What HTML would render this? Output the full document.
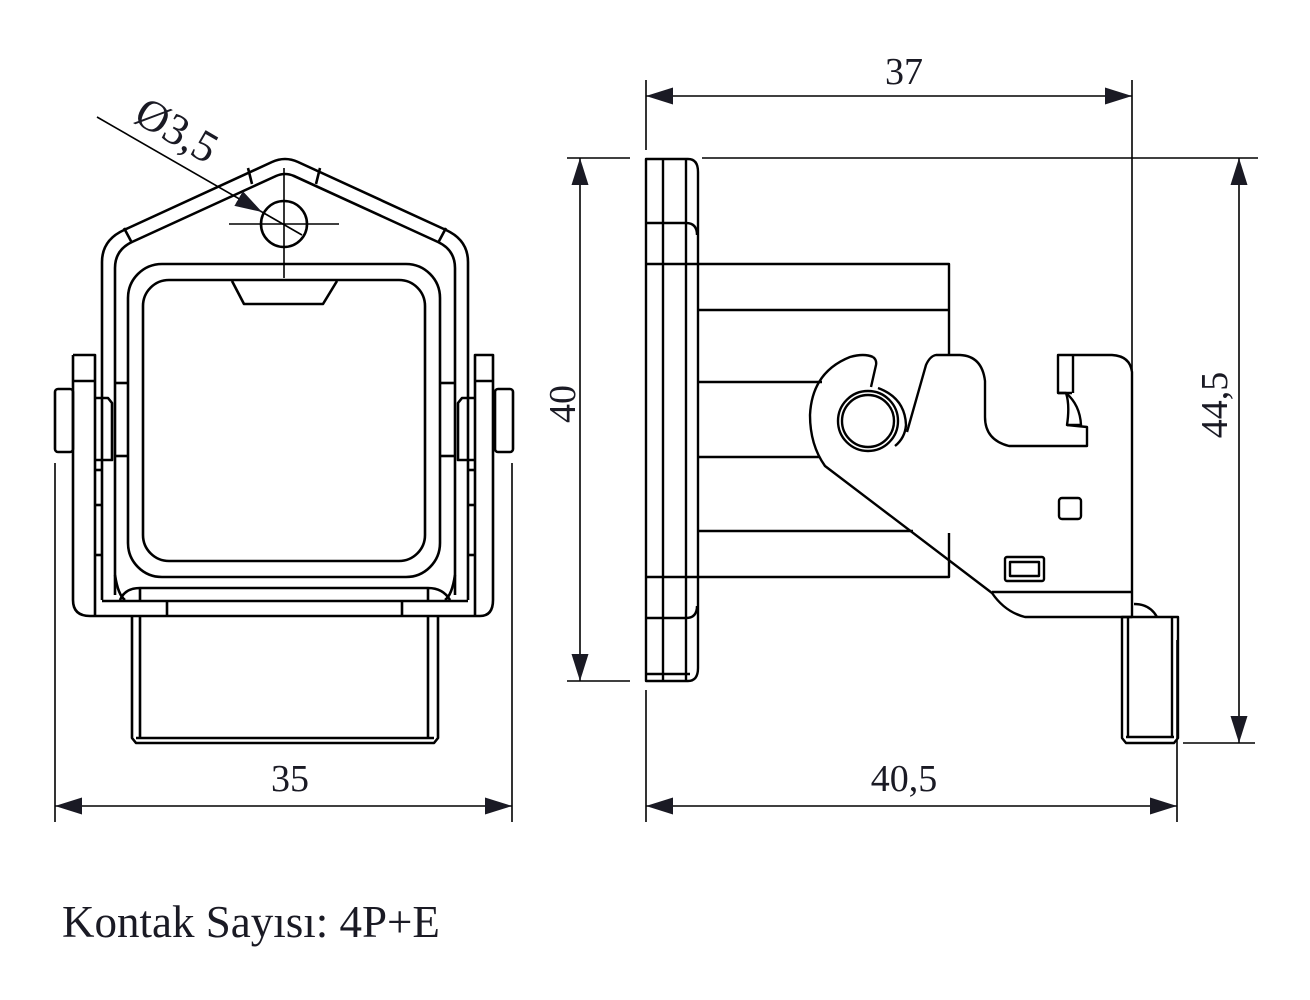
<!DOCTYPE html>
<html><head><meta charset="utf-8"><style>
html,body{margin:0;padding:0;background:#fff;}
svg{display:block;}
text{font-family:"Liberation Serif",serif;fill:#1a1a24;}
</style></head><body>
<svg width="1310" height="1000" viewBox="0 0 1310 1000" xmlns="http://www.w3.org/2000/svg">
<defs>
<marker id="ar" viewBox="0 0 27 17" refX="27" refY="8.5" markerWidth="27" markerHeight="17" markerUnits="userSpaceOnUse" orient="auto-start-reverse">
<path d="M0,0 L27,8.5 L0,17 Z" fill="#1a1a24"/>
</marker>
</defs>
<g fill="none" stroke="#000" stroke-width="2.6" stroke-linejoin="round">
<path d="M102,600 L102,262 Q102,240 124,230 L272,162 Q285,156 298,162 L446,230 Q468,240 468,262 L468,600"/>
<path d="M115,595 L115,268 Q115,250 132,242 L276,176 Q285,172 294,176 L438,242 Q455,250 455,268 L455,595"/>
<line x1="124" y1="228" x2="132" y2="243"/><line x1="446" y1="228" x2="438" y2="243"/>
<line x1="248" y1="168" x2="252" y2="184"/><line x1="320" y1="168" x2="316" y2="184"/>
<rect x="128" y="264" width="312" height="313" rx="34"/>
<rect x="143" y="280" width="282" height="281" rx="26"/>
<path d="M232,281 L244,304 L323,304 L337,281"/>
<circle cx="284" cy="224" r="23"/>
<path d="M73,355 L95,355 L95,615 M73,355 L73,600 Q73,616 90,616 L480,616 Q493,616 493,600 L493,355 L475,355 L475,615"/>
<line x1="73" y1="381" x2="95" y2="381"/><line x1="475" y1="381" x2="493" y2="381"/>
<rect x="55" y="389" width="18" height="63" rx="3"/>
<rect x="495" y="389" width="18" height="63" rx="3"/>
<path d="M95,398 L108,398 L112,403 L112,460 L95,460"/>
<path d="M475,398 L462,398 L458,403 L458,460 L475,460"/>
<line x1="115" y1="383" x2="128" y2="383"/><line x1="115" y1="456" x2="128" y2="456"/>
<line x1="455" y1="383" x2="440" y2="383"/><line x1="455" y1="456" x2="440" y2="456"/>
<line x1="95" y1="470" x2="102" y2="470"/><line x1="95" y1="505" x2="102" y2="505"/><line x1="95" y1="555" x2="102" y2="555"/>
<line x1="468" y1="470" x2="475" y2="470"/><line x1="468" y1="505" x2="475" y2="505"/><line x1="468" y1="555" x2="475" y2="555"/>
<path d="M115,575 Q118,595 125,600 M455,575 Q452,595 445,600"/>
<line x1="102" y1="601" x2="468" y2="601"/>
<path d="M120,600 Q125,588 140,588 L428,588 Q443,588 450,600"/>
<line x1="140" y1="588" x2="140" y2="601"/><line x1="428" y1="588" x2="428" y2="601"/>
<line x1="167" y1="601" x2="167" y2="616"/><line x1="402" y1="601" x2="402" y2="616"/>
<path d="M132,616 L132,738 L136,743 L434,743 L438,738 L438,616"/>
<path d="M140,616 L140,738 M428,616 L428,738 M136,738 L434,738"/>
</g>
<g stroke="#000" stroke-width="1.6" fill="none">
<line x1="229" y1="224" x2="339" y2="224"/>
<line x1="284" y1="168" x2="284" y2="278"/>
<line x1="97" y1="117" x2="262" y2="212" marker-end="url(#ar)"/>
<line x1="262" y1="212" x2="302" y2="235"/>
<line x1="55" y1="463" x2="55" y2="822"/>
<line x1="512" y1="463" x2="512" y2="822"/>
<line x1="55" y1="806" x2="512" y2="806" marker-start="url(#ar)" marker-end="url(#ar)"/>
<line x1="646" y1="80" x2="646" y2="150"/>
<line x1="1132" y1="80" x2="1132" y2="370"/>
<line x1="646" y1="96" x2="1132" y2="96" marker-start="url(#ar)" marker-end="url(#ar)"/>
<line x1="567" y1="158" x2="630" y2="158"/>
<line x1="702" y1="158" x2="1258" y2="158"/>
<line x1="567" y1="681" x2="630" y2="681"/>
<line x1="580" y1="158" x2="580" y2="681" marker-start="url(#ar)" marker-end="url(#ar)"/>
<line x1="1183" y1="743" x2="1255" y2="743"/>
<line x1="1239" y1="158" x2="1239" y2="743" marker-start="url(#ar)" marker-end="url(#ar)"/>
<line x1="646" y1="690" x2="646" y2="822"/>
<line x1="1177" y1="640" x2="1177" y2="822"/>
<line x1="646" y1="806" x2="1177" y2="806" marker-start="url(#ar)" marker-end="url(#ar)"/>
</g>
<g fill="none" stroke="#000" stroke-width="2.4" stroke-linejoin="round">
<path d="M646,159 L688,159 Q698,159 698,172 L698,668 Q698,681 688,681 L646,681 Z"/>
<line x1="663" y1="159" x2="663" y2="681"/><line x1="686" y1="159" x2="686" y2="681"/>
<path d="M646,223 L686,223 Q697,223 697,235"/>
<line x1="646" y1="264" x2="698" y2="264"/>
<line x1="646" y1="577" x2="698" y2="577"/>
<path d="M646,618 L686,618 Q697,618 697,606"/>
<line x1="646" y1="674" x2="690" y2="674"/>
<path d="M698,264 L949,264 L949,355 M949,533 L949,577 L698,577"/>
<line x1="698" y1="310" x2="949" y2="310"/>
<line x1="698" y1="382" x2="822" y2="382"/>
<line x1="698" y1="457" x2="820" y2="457"/>
<line x1="698" y1="531" x2="913" y2="531"/>
<path d="M873,357 Q864,353 850,357 Q812,372 810,415 Q810,445 825,466 L992,593 Q1005,612 1025,617 L1132,617 L1132,372 Q1130,356 1112,355 L1058,355 L1058,393 L1066,393 Q1070,405 1067,425 L1087,427 L1087,446 L1009,446 Q985,440 985,417 L985,381 Q982,356 960,355 L936,355 Q930,356 926,365 L907,432"/>
<path d="M873,357 Q877,360 876,365 L871,387"/>
<path d="M1058,393 L1072,393 M1066,393 Q1080,405 1081,425 L1067,425 M1073,355 L1073,393"/>
<line x1="992" y1="592" x2="1132" y2="592"/>
<circle cx="868" cy="421" r="30"/>
<circle cx="868" cy="421" r="26"/>
<path d="M878,388 Q905,398 906,425 Q905,438 895,446"/>
<rect x="1059" y="498" width="22" height="21" rx="3"/>
<rect x="1005" y="557" width="39" height="24" rx="2"/>
<rect x="1010" y="562" width="29" height="14"/>
<path d="M1134,604 Q1150,604 1157,617"/>
<path d="M1122,617 L1122,738 L1126,743 L1174,743 L1178,738 L1178,617 Z"/>
<path d="M1128,617 L1128,738 M1172,617 L1172,738 M1126,737 L1174,737"/>
</g>
<g font-size="38">
<text x="290" y="791" text-anchor="middle">35</text>
<text x="904" y="84" text-anchor="middle">37</text>
<text x="904" y="791" text-anchor="middle">40,5</text>
<text transform="translate(575,404) rotate(-90)" text-anchor="middle">40</text>
<text transform="translate(1227,405) rotate(-90)" text-anchor="middle">44,5</text>
<text transform="translate(132,121) rotate(30)" font-size="44">Ø3,5</text>
<text x="62" y="937" font-size="45">Kontak Sayısı: 4P+E</text>
</g>
</svg>
</body></html>
